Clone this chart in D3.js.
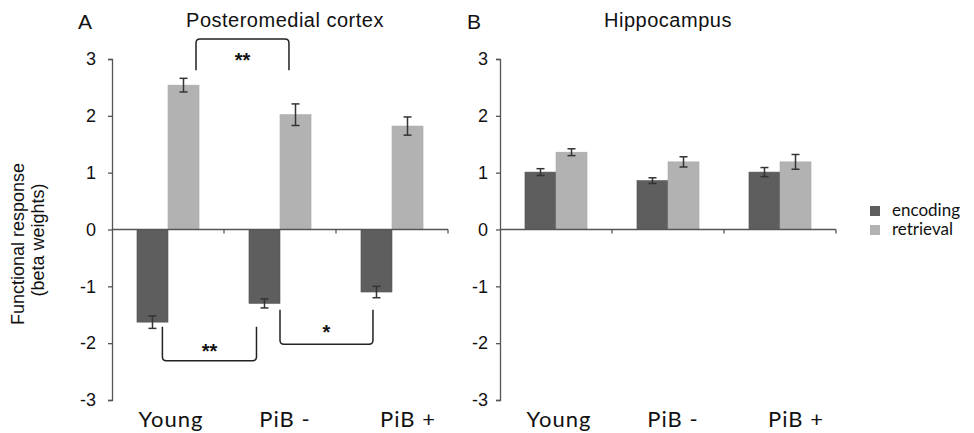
<!DOCTYPE html>
<html>
<head>
  <script src="https://d3js.org/d3.v7.min.js"></script>
  <style>
    body { margin: 0; background: #ffffff; }
    text { font-family: 'Liberation Sans', Arial, sans-serif; fill: #111; }
    .cat, .legend text { font-family: Lato, 'Open Sans', sans-serif; }
  </style>
</head>
<body>
  <div id="chart"></div>
  <script>
    // data
    var groups = ["Young", "PiB -", "PiB +"];
    var series = ["encoding", "retrieval"];
    var yTicks = [-3, -2, -1, 0, 1, 2, 3];

    var pmcEncoding = [-1.63, -1.30, -1.10];
    var pmcEncodingErr = [0.11, 0.08, 0.10];
    var pmcRetrieval = [2.54, 2.02, 1.82];
    var pmcRetrievalErr = [0.12, 0.19, 0.16];

    var hipEncoding = [1.01, 0.86, 1.01];
    var hipEncodingErr = [0.06, 0.05, 0.08];
    var hipRetrieval = [1.36, 1.19, 1.19];
    var hipRetrievalErr = [0.06, 0.09, 0.13];

    // significance brackets (x in category units, y in beta units)
    var pmcBrackets = [
      { x0: 0.75, x1: 1.58, yBar: 3.35, yEnd: 2.80, star: 3.05, label: "**" },
      { x0: 0.45, x1: 1.29, yBar: -2.31, yEnd: -1.71, star: -2.06, label: "**" },
      { x0: 1.50, x1: 2.33, yBar: -2.02, yEnd: -1.41, star: -1.74, label: "*" }
    ];

    var colours = { encoding: "#5e5e5e", retrieval: "#b2b2b2" };

    var width = 974, height = 433;
    var svg = d3.select("#chart").append("svg")
      .attr("width", width)
      .attr("height", height);

    var y = d3.scaleLinear().domain([-3, 3]).range([400, 59]);

    function panel(opts) {
      var g = svg.append("g");

      var x0 = d3.scaleBand().domain(groups)
        .range([opts.left, opts.left + 336])
        .paddingInner(0.446).paddingOuter(0.223);
      var x1 = d3.scaleBand().domain(series).range([0, x0.bandwidth()]);
      var xPos = d3.scaleLinear().domain([0, 3]).range([opts.left, opts.left + 336]);

      var rows = [];
      groups.forEach(function (grp, i) {
        rows.push({ group: grp, key: "encoding", value: opts.enc[i], err: opts.encErr[i] });
        rows.push({ group: grp, key: "retrieval", value: opts.ret[i], err: opts.retErr[i] });
      });

      // bars
      g.selectAll("rect.bar").data(rows).enter().append("rect")
        .attr("class", "bar")
        .attr("x", function (d) { return x0(d.group) + x1(d.key); })
        .attr("width", x1.bandwidth())
        .attr("y", function (d) { return y(Math.max(0, d.value)); })
        .attr("height", function (d) { return Math.abs(y(d.value) - y(0)); })
        .style("fill", function (d) { return colours[d.key]; })
        .style("stroke", function (d) { return d.key == "encoding" ? "#555" : "#aaa"; })
        .style("stroke-width", 0.6);

      // error bars
      var eb = g.selectAll("g.err").data(rows).enter().append("g")
        .attr("class", "err")
        .attr("transform", function (d) {
          return "translate(" + (x0(d.group) + x1(d.key) + x1.bandwidth() / 2) + ",0)";
        })
        .style("stroke", "#333")
        .style("stroke-width", 1.5);
      eb.append("line")
        .attr("y1", function (d) { return y(d.value - d.err); })
        .attr("y2", function (d) { return y(d.value + d.err); });
      eb.append("line").attr("x1", -4).attr("x2", 4)
        .attr("y1", function (d) { return y(d.value - d.err); })
        .attr("y2", function (d) { return y(d.value - d.err); });
      eb.append("line").attr("x1", -4).attr("x2", 4)
        .attr("y1", function (d) { return y(d.value + d.err); })
        .attr("y2", function (d) { return y(d.value + d.err); });

      // y axis
      var yAxis = g.append("g")
        .attr("transform", "translate(" + opts.left + ",0)")
        .call(d3.axisLeft(y).tickValues(yTicks).tickSize(4).tickPadding(opts.tickPad).tickFormat(d3.format("d")));
      yAxis.select(".domain").attr("stroke", "#555").attr("stroke-width", 1.3);
      yAxis.selectAll(".tick line").attr("stroke", "#555").attr("stroke-width", 1.3);
      yAxis.selectAll(".tick text")
        .style("font-family", "'Liberation Sans', Arial, sans-serif")
        .style("font-size", "18px")
        .style("fill", "#111")
        .text(function (d) { return d < 0 ? "-" + Math.abs(d) : d; });

      // x axis along zero with boundary ticks
      var zero = y(0);
      g.append("line")
        .attr("x1", opts.left).attr("x2", opts.left + 336)
        .attr("y1", zero).attr("y2", zero)
        .style("stroke", "#555").style("stroke-width", 1.3);
      g.selectAll("line.xtick").data(d3.range(1, groups.length + 1)).enter().append("line")
        .attr("class", "xtick")
        .attr("x1", function (d) { return xPos(d); })
        .attr("x2", function (d) { return xPos(d); })
        .attr("y1", zero).attr("y2", zero + 4)
        .style("stroke", "#555").style("stroke-width", 1.3);

      // category labels
      var nudge = [3, 5, 16];
      g.selectAll("text.cat").data(groups).enter().append("text")
        .attr("class", "cat")
        .attr("x", function (d, i) { return x0(d) + x0.bandwidth() / 2 + nudge[i]; })
        .attr("y", 427)
        .attr("text-anchor", "middle")
        .style("font-size", "22px")
        .style("letter-spacing", "1px")
        .text(function (d) { return d; });

      // title + panel letter
      g.append("text")
        .attr("x", opts.left + 168 + opts.titleDx).attr("y", 27)
        .attr("text-anchor", "middle")
        .style("font-size", "20px")
        .style("letter-spacing", "0.5px")
        .text(opts.title);
      g.append("text")
        .attr("x", opts.letterX).attr("y", 29)
        .style("font-size", "21px")
        .text(opts.letter);

      // brackets
      (opts.brackets || []).forEach(function (b) {
        var xa = xPos(b.x0), xb = xPos(b.x1);
        var yb = y(b.yBar), ye = y(b.yEnd);
        var r = 4, s = ye > yb ? 1 : -1;
        var p = d3.path();
        p.moveTo(xa, ye);
        p.lineTo(xa, yb + s * r);
        p.quadraticCurveTo(xa, yb, xa + r, yb);
        p.lineTo(xb - r, yb);
        p.quadraticCurveTo(xb, yb, xb, yb + s * r);
        p.lineTo(xb, ye);
        g.append("path").attr("d", p.toString())
          .style("fill", "none").style("stroke", "#222").style("stroke-width", 1.5);
        g.append("text")
          .attr("x", (xa + xb) / 2).attr("y", y(b.star) + 11)
          .attr("text-anchor", "middle")
          .style("font-size", "20px").style("font-weight", "bold")
          .text(b.label);
      });
    }

    panel({
      left: 112, enc: pmcEncoding, encErr: pmcEncodingErr, ret: pmcRetrieval, retErr: pmcRetrievalErr,
      title: "Posteromedial cortex", titleDx: 5, letter: "A", letterX: 78, tickPad: 12, brackets: pmcBrackets
    });
    panel({
      left: 500, enc: hipEncoding, encErr: hipEncodingErr, ret: hipRetrieval, retErr: hipRetrievalErr,
      title: "Hippocampus", titleDx: 0, letter: "B", letterX: 467, tickPad: 8
    });

    // y axis title
    svg.append("text")
      .attr("transform", "translate(24,244) rotate(-90)")
      .attr("text-anchor", "middle")
      .style("font-size", "18px")
      .text("Functional response");
    svg.append("text")
      .attr("transform", "translate(44,240) rotate(-90)")
      .attr("text-anchor", "middle")
      .style("font-size", "18px")
      .text("(beta weights)");

    // legend
    var legend = svg.append("g").attr("class", "legend")
      .attr("transform", "translate(870,206)");
    var item = legend.selectAll("g").data(series).enter().append("g")
      .attr("transform", function (d, i) { return "translate(0," + i * 19 + ")"; });
    item.append("rect").attr("width", 10).attr("height", 10)
      .style("fill", function (d) { return colours[d]; });
    item.append("text").attr("x", 22).attr("y", 10)
      .style("font-size", "17px")
      .text(function (d) { return d; });
  </script>
</body>
</html>
